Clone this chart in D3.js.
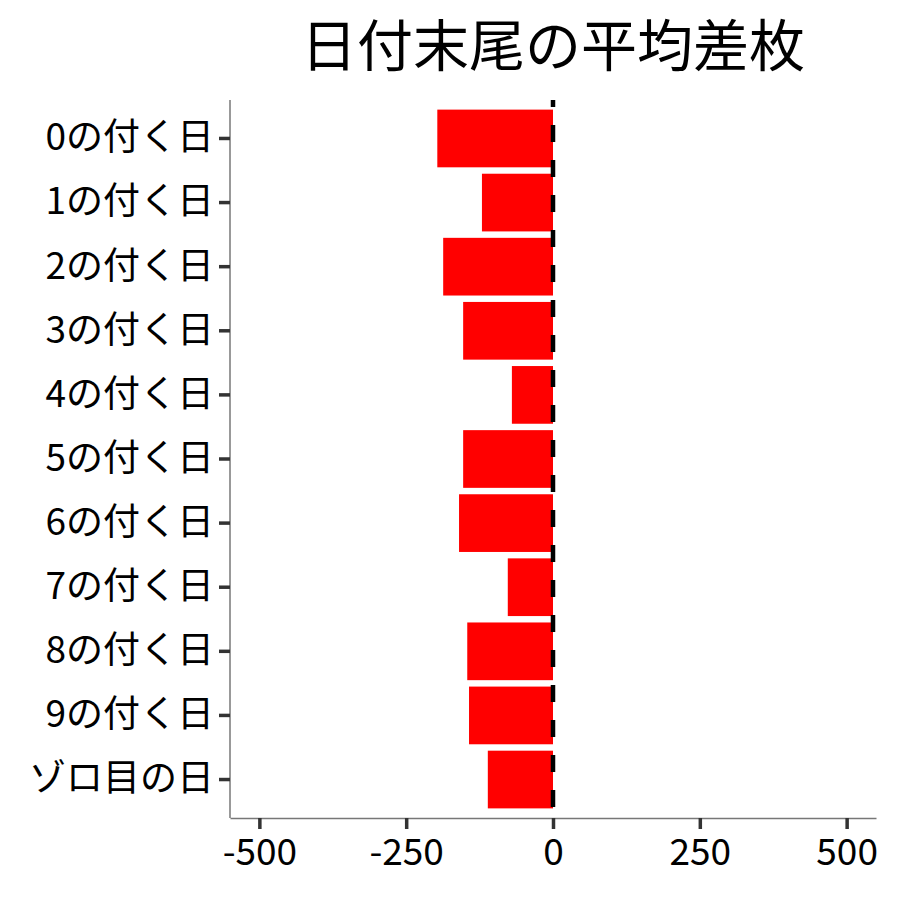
<!DOCTYPE html>
<html>
<head>
<meta charset="utf-8">
<script src="https://cdn.jsdelivr.net/npm/d3@7"></script>
<style>
  body { margin: 0; background: #fff; }
  text { font-family: "Noto Sans CJK JP", "Noto Sans", sans-serif; }
</style>
</head>
<body>
<div id="chart"></div>
<script>
// data
const days = ["0の付く日", "1の付く日", "2の付く日", "3の付く日", "4の付く日",
              "5の付く日", "6の付く日", "7の付く日", "8の付く日", "9の付く日", "ゾロ目の日"]
const avgDiff = [-197, -121, -187, -153, -70, -153, -160, -77, -146, -143, -111]
const xTicks = [-500, -250, 0, 250, 500]
const title = "日付末尾の平均差枚"

const width = 900, height = 900
const margin = {top: 100, right: 24, bottom: 82, left: 230}

let svg = d3.select("#chart")
  .append("svg")
  .attr("width", width)
  .attr("height", height)

let x = d3.scaleLinear()
  .domain([-550, 550])
  .range([margin.left, width - margin.right])

// ggplot style discrete axis: 0.6 units of padding each end
let n = days.length
let step = (height - margin.bottom - margin.top) / (n - 1 + 1.2)
let y = d3.scaleBand()
  .domain(days)
  .range([margin.top + 0.1 * step, height - margin.bottom - 0.1 * step])
  .paddingInner(0.1)
  .paddingOuter(0.05)

svg.selectAll("rect.bar")
  .data(avgDiff)
  .enter()
  .append("rect")
  .attr("class", "bar")
  .attr("x", d => x(Math.min(0, d)))
  .attr("width", d => Math.abs(x(d) - x(0)))
  .attr("y", (d, i) => y(days[i]))
  .attr("height", y.bandwidth())
  .attr("fill", "#ff0000")

// dashed zero line
svg.append("line")
  .attr("x1", x(0)).attr("x2", x(0))
  .attr("y1", margin.top).attr("y2", height - margin.bottom)
  .attr("stroke", "black")
  .attr("stroke-width", 4.5)
  .attr("stroke-dasharray", "17,18")
  .attr("stroke-dashoffset", 10)

// x axis
let xAxis = svg.append("g")
  .attr("transform", `translate(0,${height - margin.bottom})`)
  .call(d3.axisBottom(x).tickValues(xTicks).tickSize(11).tickSizeOuter(0)
    .tickPadding(10).tickFormat(d => String(d)))
xAxis.select(".domain").attr("stroke", "#777").attr("stroke-width", 1.5)
xAxis.selectAll(".tick line").attr("stroke", "#333").attr("stroke-width", 3.5)
xAxis.selectAll(".tick text").attr("font-size", 37).attr("fill", "black")
  .style("font-family", "'Noto Sans CJK JP', sans-serif")

// y axis
let yAxis = svg.append("g")
  .attr("transform", `translate(${margin.left},0)`)
  .call(d3.axisLeft(y).tickSize(11).tickPadding(5))
yAxis.select(".domain").attr("d", `M0,${margin.top}V${height - margin.bottom}`)
  .attr("stroke", "#777").attr("stroke-width", 1.5)
yAxis.selectAll(".tick line").attr("stroke", "#333").attr("stroke-width", 3.5)
yAxis.selectAll(".tick text").attr("font-size", 37).attr("fill", "black")
  .style("font-family", "'Noto Sans CJK JP', sans-serif")

// title
svg.append("text")
  .attr("x", (margin.left + width - margin.right) / 2)
  .attr("y", 66)
  .attr("text-anchor", "middle")
  .attr("font-size", 56)
  .attr("fill", "black")
  .text(title)
</script>
</body>
</html>
